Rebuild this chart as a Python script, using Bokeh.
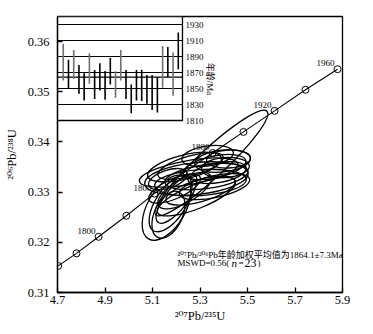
import math
from bokeh.plotting import figure
from bokeh.models import Range1d, FixedTicker, ColumnDataSource
from bokeh.core.properties import value
from bokeh.embed import file_html
from bokeh.resources import INLINE

SERIF = "Liberation Serif, DejaVu Serif, Noto Sans CJK SC"

# ---- concordia ----
conc_x = [4.703, 4.780, 4.873, 4.990, 5.108, 5.230, 5.353, 5.483, 5.614, 5.744, 5.879]
conc_y = [0.3153, 0.3178, 0.3211, 0.3253, 0.3297, 0.3338, 0.3378, 0.3420, 0.3462, 0.3504, 0.3545]
conc_label_idx = [2, 4, 6, 8, 10]
conc_label_txt = ["1800", "1800", "1880", "1920", "1960"]

# ---- error ellipses (207Pb/235U, 206Pb/238U) ----
ell_x = [5.348, 5.159, 5.176, 5.167, 5.201, 5.285, 5.252, 5.302, 5.235, 5.327, 5.395, 5.420,
         5.361, 5.302, 5.285, 5.235, 5.378, 5.407, 5.260, 5.193, 5.361, 5.165, 5.332]
ell_y = [0.3358, 0.3269, 0.3277, 0.3255, 0.3287, 0.3327, 0.3339, 0.3319, 0.3350, 0.3331, 0.3362, 0.3366,
         0.3350, 0.3303, 0.3291, 0.3303, 0.3339, 0.3349, 0.3352, 0.3307, 0.3311, 0.3326, 0.3372]
ell_w = [0.640, 0.303, 0.269, 0.211, 0.253, 0.438, 0.421, 0.387, 0.320, 0.354, 0.236, 0.185,
         0.269, 0.303, 0.354, 0.253, 0.236, 0.202, 0.286, 0.236, 0.303, 0.170, 0.219]
ell_h = [0.00557, 0.00755, 0.00596, 0.00557, 0.00437, 0.00636, 0.00477, 0.00517, 0.00477, 0.00477, 0.00437, 0.00358,
         0.00437, 0.00437, 0.00477, 0.00477, 0.00398, 0.00398, 0.00398, 0.00398, 0.00437, 0.00358, 0.00398]
ell_ang = [43, 60, 57, 65, 52, 6, 10, 4, 14, 8, 6, 3,
           12, 16, 22, 30, 10, 4, 16, 24, 12, 18, 8]

# ---- inset: 207Pb/206Pb ages ----
spot = list(range(1, 24))
age = [1883, 1868, 1880, 1861.5, 1852, 1875, 1855, 1864.5, 1854, 1871.5, 1855, 1879,
       1855, 1837, 1854, 1854, 1849, 1845, 1842, 1877, 1883, 1868, 1897]
age_err = [23, 18, 18, 18, 17, 19, 18, 17, 18, 16.5, 16.5, 19,
           18, 18, 19, 19.5, 18, 22, 22, 26, 19, 27, 23]
bar_color = ["#707070", "black", "#707070", "black", "black", "#707070", "black", "black", "black",
             "black", "#707070", "#707070", "black", "black", "black", "black", "black", "black",
             "black", "#707070", "black", "#707070", "black"]
age_ticks = [1810, 1830, 1850, 1870, 1890, 1910, 1930]
mean_age = 1864.1
INSET_AGE_MIN, INSET_AGE_MAX = 1810, 1940
INSET_IDX_MIN, INSET_IDX_MAX = -0.1, 23.8

x_ticks = [4.7, 4.9, 5.1, 5.3, 5.5, 5.7, 5.9]
y_ticks = [0.31, 0.32, 0.33, 0.34, 0.35, 0.36]

p = figure(width=373, height=334, x_range=Range1d(4.7, 5.9), y_range=Range1d(0.31, 0.365),
           output_backend="svg", toolbar_location=None,
           min_border_left=57, min_border_right=31, min_border_top=16, min_border_bottom=42)
p.extra_x_ranges = {"idx": Range1d(-0.1, 54.4)}
p.extra_y_ranges = {"age": Range1d(1595, 1940)}
p.grid.visible = False
p.outline_line_color = "black"
p.outline_line_width = 1.3
p.background_fill_color = "white"
p.border_fill_color = "white"

for ax, ticks in ((p.xaxis[0], x_ticks), (p.yaxis[0], y_ticks)):
    ax.ticker = FixedTicker(ticks=ticks)
    ax.minor_tick_line_color = None
    ax.major_tick_in = 5
    ax.major_tick_out = 0
    ax.major_tick_line_color = "black"
    ax.major_tick_line_width = 1.3
    ax.axis_line_color = "black"
    ax.axis_line_width = 1.3
    ax.major_label_text_font = SERIF
    ax.major_label_text_font_size = "12.5px"
    ax.major_label_text_color = "black"
    ax.axis_label_text_font = SERIF
    ax.axis_label_text_font_size = "12.5px"
    ax.axis_label_text_font_style = "normal"
    ax.axis_label_text_color = "black"

p.xaxis.axis_label = "²⁰⁷Pb/²³⁵U"
p.yaxis.axis_label = "²⁰⁶Pb/²³⁸U"
p.xaxis.major_label_standoff = 3
p.xaxis.axis_label_standoff = 2
p.yaxis.major_label_standoff = 8
p.yaxis.axis_label_standoff = 6

# ---- inset ----
p.quad(left=[INSET_IDX_MIN], right=[INSET_IDX_MAX], bottom=[INSET_AGE_MIN], top=[INSET_AGE_MAX],
       fill_color="white", line_color="black", line_width=1.3,
       x_range_name="idx", y_range_name="age")
grid_y = age_ticks[1:] + [mean_age]
p.segment(x0=[INSET_IDX_MIN] * len(grid_y), x1=[INSET_IDX_MAX] * len(grid_y), y0=grid_y, y1=grid_y,
          line_color="black", line_width=1.2, x_range_name="idx", y_range_name="age")
bsrc = ColumnDataSource(dict(x=spot, lo=[a - e for a, e in zip(age, age_err)],
                             hi=[a + e for a, e in zip(age, age_err)], c=bar_color))
p.segment(x0="x", x1="x", y0="lo", y1="hi", line_color="c", line_width=1.6, source=bsrc,
          x_range_name="idx", y_range_name="age")
p.text(x=[INSET_IDX_MAX] * len(age_ticks), y=age_ticks, text=[str(t) for t in age_ticks],
       x_offset=3, text_align="left", text_baseline="middle",
       text_font=value(SERIF), text_font_size="9px", text_color="black",
       x_range_name="idx", y_range_name="age")
p.text(x=[INSET_IDX_MAX], y=[1862], text=["年龄/Ma"], x_offset=28, angle=-math.pi / 2,
       text_align="center", text_baseline="middle",
       text_font=value(SERIF), text_font_size="9px", text_color="black",
       x_range_name="idx", y_range_name="age")

# ---- ellipses ----
p.ellipse(x=ell_x, y=ell_y, width=ell_w, height=ell_h, angle=ell_ang, angle_units="deg",
          fill_color=None, line_color="black", line_width=1.3)

# ---- concordia ----
p.line(conc_x, conc_y, line_color="black", line_width=1.1)
p.scatter(conc_x, conc_y, size=7, marker="circle", fill_color=None, line_color="black", line_width=1)
p.text(x=[conc_x[i] for i in conc_label_idx], y=[conc_y[i] for i in conc_label_idx],
       text=conc_label_txt, x_offset=-3, y_offset=-6, text_align="right", text_baseline="middle",
       text_font=value(SERIF), text_font_size="9px", text_color="black")

# ---- annotation ----
ANN_X = 5.205
p.text(x=[ANN_X], y=[0.31755], text=["²⁰⁷Pb/²⁰⁶Pb年龄加权平均值为1864.1±7.3Ma"],
       text_align="left", text_baseline="middle",
       text_font=value(SERIF), text_font_size="9px", text_color="black")
pieces = ["MSWD=0.56(", "n", "=", "23", ")"]
piece_dx = [0, 54, 61, 67, 80]
piece_size = ["9px", "11px", "9px", "12px", "9px"]
piece_style = ["normal", "italic", "normal", "normal", "normal"]
for t, dx, fs, st in zip(pieces, piece_dx, piece_size, piece_style):
    p.text(x=[ANN_X], y=[0.31596], text=[t], x_offset=dx,
           text_align="left", text_baseline="middle",
           text_font=value(SERIF), text_font_size=fs, text_font_style=st, text_color="black")

open("out.html", "w").write(file_html(p, INLINE))
